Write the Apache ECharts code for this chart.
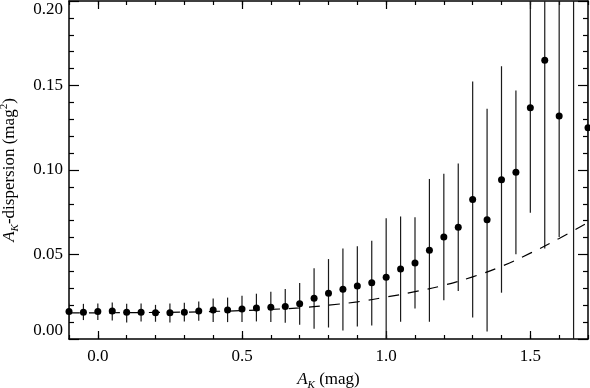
<!DOCTYPE html>
<html>
<head>
<meta charset="utf-8">
<script src="https://cdn.jsdelivr.net/npm/echarts@6/dist/echarts.min.js"></script>
<style>
  html, body { margin: 0; padding: 0; background: #fff; }
  #chart { width: 590px; height: 388px; }
</style>
</head>
<body>
<div id="chart"></div>
<script>
// bin centres in A_K (mag)
const binAk = [
  -0.1, -0.05, 0.0, 0.05, 0.1, 0.15, 0.2, 0.25, 0.3, 0.35,
  0.4, 0.45, 0.5, 0.55, 0.6, 0.65, 0.7, 0.75, 0.8, 0.85,
  0.9, 0.95, 1.0, 1.05, 1.1, 1.15, 1.2, 1.25, 1.3, 1.35,
  1.4, 1.45, 1.5, 1.55, 1.6, 1.65, 1.7,
];
const dispersion = [
  0.0162, 0.0159, 0.0162, 0.0166, 0.0159, 0.0159, 0.0155, 0.0155, 0.0159, 0.0166,
  0.0172, 0.0172, 0.0178, 0.0184, 0.0188, 0.0192, 0.0208, 0.0241, 0.0270, 0.0294,
  0.0314, 0.0333, 0.0366, 0.0414, 0.0449, 0.0525, 0.0604, 0.0661, 0.0825, 0.0706,
  0.0943, 0.0986, 0.1368, 0.1649, 0.1319, 0.2450, 0.1250,
];
const errLow = [
  0.0110, 0.0112, 0.0112, 0.0110, 0.0098, 0.0104, 0.0102, 0.0098, 0.0104, 0.0108,
  0.0100, 0.0100, 0.0100, 0.0104, 0.0100, 0.0096, 0.0084, 0.0060, 0.0068, 0.0050,
  0.0074, 0.0080, 0.0000, 0.0102, 0.0180, 0.0102, 0.0229, 0.0284, 0.0127, 0.0045,
  0.0274, 0.0502, 0.0747, 0.0535, 0.0604, -0.0300, 0.0700,
];
const errHigh = [
  0.0210, 0.0208, 0.0210, 0.0216, 0.0208, 0.0210, 0.0202, 0.0210, 0.0214, 0.0222,
  0.0240, 0.0245, 0.0256, 0.0268, 0.0280, 0.0296, 0.0331, 0.0418, 0.0473, 0.0535,
  0.0549, 0.0582, 0.0714, 0.0725, 0.0720, 0.0947, 0.0978, 0.1039, 0.1524, 0.1362,
  0.1614, 0.1471, 0.2300, 0.2700, 0.2300, 0.4000, 0.1800,
];

// dashed model curve
const modelAk = [
  -0.1, 0.0, 0.1, 0.2, 0.3, 0.4, 0.5, 0.6, 0.7, 0.8,
  0.9, 1.0, 1.1, 1.2, 1.3, 1.4, 1.5, 1.6, 1.7,
];
const modelDispersion = [
  0.0155, 0.0155, 0.0156, 0.0157, 0.0159, 0.0163, 0.0168, 0.0175, 0.0184, 0.0200,
  0.0220, 0.0248, 0.0280, 0.0318, 0.0368, 0.0430, 0.0508, 0.0595, 0.0690,
];

// major ticks / labels on the A_K axis
const akMajorTicks = [0.0, 0.5, 1.0, 1.5];

const X_MIN = -0.1;
const X_MAX = 1.7;
const Y_MIN = 0;
const Y_MAX = 0.2;

const FONT = "'Liberation Serif', 'Times New Roman', serif";
const chart = echarts.init(document.getElementById('chart'));

const lineStyle = { color: '#000', width: 1.2 };

// x axis: one axis carries the 0.1 minor ticks, a second overlays the major ticks
function xMinorAxis(position) {
  return {
    type: 'value', position, min: X_MIN, max: X_MAX, interval: 0.1,
    axisLine: { show: true, onZero: false, lineStyle: { color: '#000', width: 1.5 } },
    axisTick: { show: true, inside: true, length: 4, lineStyle },
    axisLabel: { show: false },
    splitLine: { show: false },
  };
}

function xMajorAxis(position, showLabels) {
  return {
    type: 'value', position, min: X_MIN, max: X_MAX,
    axisLine: { show: false, onZero: false },
    axisTick: { show: true, inside: true, length: 8, lineStyle, customValues: akMajorTicks },
    axisLabel: {
      show: showLabels, margin: 9, color: '#000', fontFamily: FONT, fontSize: 17,
      customValues: akMajorTicks,
      formatter: (v) => v.toFixed(1),
    },
    splitLine: { show: false },
  };
}

function yAxis(position, showLabels) {
  return {
    type: 'value', position, min: Y_MIN, max: Y_MAX, interval: 0.05,
    axisLine: { show: true, onZero: false, lineStyle: { color: '#000', width: 1.5 } },
    axisTick: { show: true, inside: true, length: 10, lineStyle },
    minorTick: { show: true, splitNumber: 5, length: 5, lineStyle },
    splitLine: { show: false },
    axisLabel: {
      show: showLabels, margin: 6, color: '#000', fontFamily: FONT, fontSize: 17,
      verticalAlignMaxLabel: 'top',
      verticalAlignMinLabel: 'bottom',
      formatter: (v) => v.toFixed(2),
    },
  };
}

const nameRich = {
  i: { fontFamily: FONT, fontSize: 17, fontStyle: 'italic', color: '#000' },
  sub: { fontFamily: FONT, fontSize: 11, fontStyle: 'italic', color: '#000', verticalAlign: 'bottom', lineHeight: 22 },
  sup: { fontFamily: FONT, fontSize: 11, color: '#000', verticalAlign: 'top', lineHeight: 22 },
  n: { fontFamily: FONT, fontSize: 17, color: '#000' },
};

const errorData = binAk.map((x, i) => [x, errLow[i], errHigh[i]]);
const pointData = binAk.map((x, i) => [x, dispersion[i]]);
const modelData = modelAk.map((x, i) => [x, modelDispersion[i]]);

const option = {
  animation: false,
  backgroundColor: '#fff',
  grid: { left: 69, right: 2, top: 1, bottom: 49, containLabel: false, outerBoundsMode: 'none' },
  xAxis: [
    {
      ...xMinorAxis('bottom'),
      name: '{i|A}{sub|K}{n| (mag)}',
      nameLocation: 'middle',
      nameGap: 30,
      nameTextStyle: { rich: nameRich, lineHeight: 22, verticalAlign: 'top' },
    },
    xMajorAxis('bottom', true),
    xMinorAxis('top'),
    xMajorAxis('top', false),
  ],
  yAxis: [
    {
      ...yAxis('left', true),
      name: '{i|A}{sub|K}{n|-dispersion (mag}{sup|2}{n|)}',
      nameLocation: 'middle',
      nameGap: 48,
      nameTextStyle: { rich: nameRich, lineHeight: 22 },
    },
    yAxis('right', false),
  ],
  series: [
    {
      type: 'custom',
      name: 'error',
      xAxisIndex: 0,
      yAxisIndex: 0,
      clip: true,
      data: errorData,
      renderItem: (params, api) => {
        const x = api.value(0);
        const lo = Math.max(api.value(1), Y_MIN);
        const hi = Math.min(api.value(2), Y_MAX);
        const p1 = api.coord([x, lo]);
        const p2 = api.coord([x, hi]);
        return {
          type: 'line',
          shape: { x1: p1[0], y1: p1[1], x2: p2[0], y2: p2[1] },
          style: { stroke: '#1a1a1a', lineWidth: 1.2 },
        };
      },
      z: 1,
    },
    {
      type: 'line',
      name: 'model',
      data: modelData,
      smooth: true,
      symbol: 'none',
      lineStyle: { color: '#000', width: 1.2, type: [11, 9] },
      z: 2,
    },
    {
      type: 'scatter',
      name: 'data',
      data: pointData,
      symbol: 'circle',
      symbolSize: 7,
      itemStyle: { color: '#000', opacity: 1 },
      clip: true,
      z: 3,
    },
  ],
};

chart.setOption(option);
</script>
</body>
</html>
